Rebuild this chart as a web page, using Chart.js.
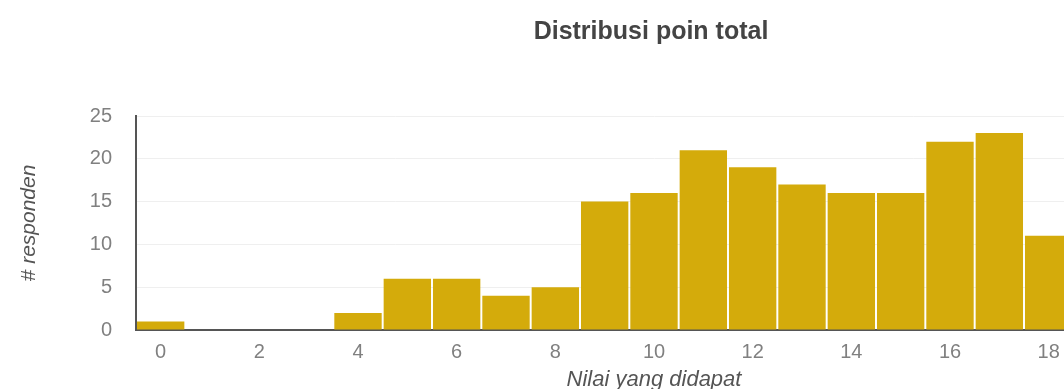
<!DOCTYPE html>
<html>
<head>
<meta charset="utf-8">
<script src="https://cdn.jsdelivr.net/npm/chart.js@4.4.1/dist/chart.umd.min.js"></script>
<style>
  html, body { margin: 0; padding: 0; background: #fff; overflow: hidden; }
  #wrap { position: relative; width: 1302px; height: 400px; }
</style>
</head>
<body>
<div id="wrap"><canvas id="c"></canvas></div>
<script>
// Score bins (total points) and number of respondents in each bin
const scoreLabels = ['0','1','2','3','4','5','6','7','8','9','10','11','12','13','14','15','16','17','18','19','20'];
const respondents = [1, 0, 0, 0, 2, 6, 6, 4, 5, 15, 16, 21, 19, 17, 16, 16, 22, 23, 11, null, null];
const yTicks = [0, 5, 10, 15, 20, 25];

const barColor = '#d4ab0b';
const textFont = "'Liberation Sans', Arial, sans-serif";

new Chart(document.getElementById('c'), {
  type: 'bar',
  data: {
    labels: scoreLabels,
    datasets: [{
      data: respondents,
      yAxisID: 'y',
      backgroundColor: barColor,
      borderWidth: 0,
      barPercentage: 0.96,
      categoryPercentage: 1.0
    }]
  },
  options: {
    responsive: true,
    maintainAspectRatio: false,
    animation: false,
    layout: { padding: 0 },
    plugins: {
      legend: { display: false },
      tooltip: { enabled: false },
      title: {
        display: true,
        text: 'Distribusi poin total',
        color: '#444',
        font: { family: textFont, size: 25, weight: 'bold' },
        padding: { top: 17, bottom: 69 }
      }
    },
    scales: {
      x: {
        offset: true,
        grid: { display: false, drawTicks: false },
        border: { display: true, color: '#555', width: 2 },
        ticks: {
          autoSkip: false,
          maxRotation: 0,
          color: '#808080',
          padding: 10,
          font: { family: textFont, size: 20 },
          callback: (v, i) => (i % 2 === 0 ? scoreLabels[i] : '')
        },
        title: {
          display: true,
          text: 'Nilai yang didapat',
          color: '#555',
          font: { family: textFont, size: 22, style: 'italic' },
          padding: { top: 0, bottom: 7 }
        },
        afterFit: s => { s.height = 70; }
      },
      y: {
        min: 0,
        max: 25,
        afterBuildTicks: s => { s.ticks = yTicks.map(v => ({ value: v })); },
        grid: { color: '#efefef', drawTicks: false },
        border: { display: true, color: '#555', width: 2 },
        ticks: {
          color: '#808080',
          padding: 24,
          font: { family: textFont, size: 20 }
        },
        title: {
          display: true,
          text: '# responden',
          color: '#555',
          font: { family: textFont, size: 21, style: 'italic' },
          padding: { top: 17, bottom: 0 }
        },
        afterFit: s => { s.width = 136; }
      },
      // empty right-hand margin of the plot (reserved space, nothing drawn)
      yRight: {
        position: 'right',
        grid: { display: false, drawTicks: false },
        border: { display: false },
        ticks: { display: false },
        afterFit: s => { s.width = 130; }
      }
    }
  }
});
</script>
</body>
</html>
